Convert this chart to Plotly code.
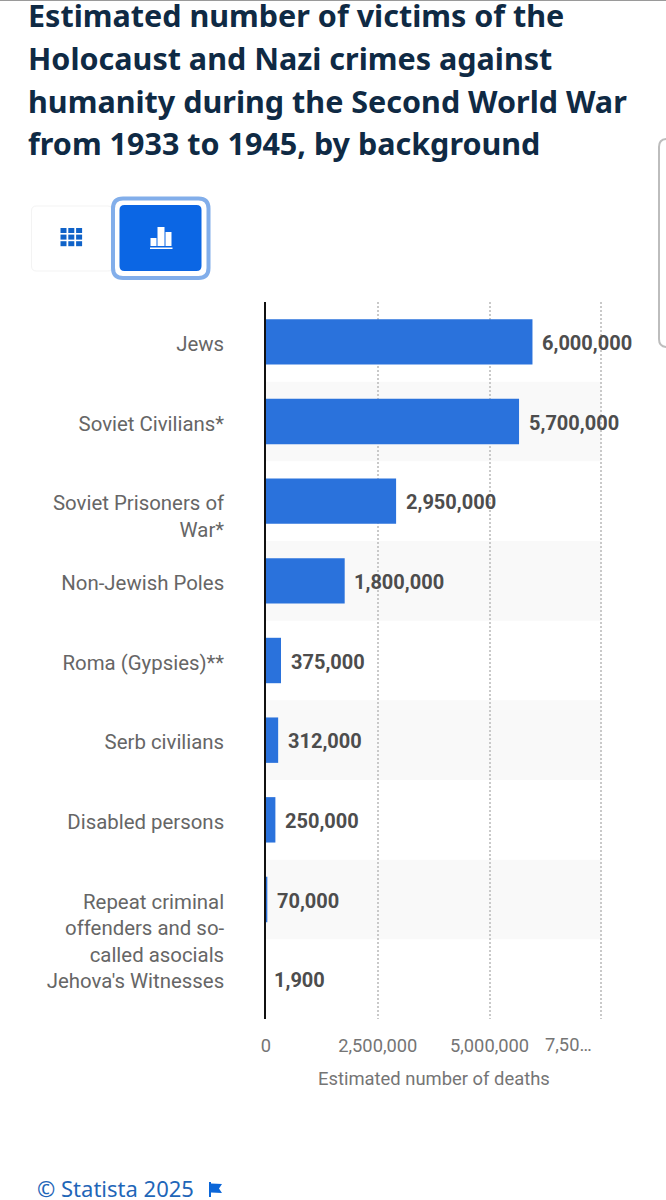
import plotly.graph_objects as go

categories = ["Jews", "Soviet Civilians*", "Soviet Prisoners of War*", "Non-Jewish Poles",
              "Roma (Gypsies)**", "Serb civilians", "Disabled persons",
              "Repeat criminal offenders and so-called asocials", "Jehova's Witnesses"]
tick_text = ["Jews", "Soviet Civilians*", "&nbsp;<br>Soviet Prisoners of<br>War*", "Non-Jewish Poles",
             "Roma (Gypsies)**", "Serb civilians", "Disabled persons",
             "&nbsp;<br>&nbsp;<br>Repeat criminal<br>offenders and so-<br>called asocials", "Jehova's Witnesses"]
deaths = [6000000, 5700000, 2950000, 1800000, 375000, 312000, 250000, 70000, 1900]
x_ticks = [0, 2500000, 5000000, 7500000]
x_tick_text = ["0", "2,500,000", "5,000,000", ""]
x_max = 7560000
truncated_tick = "7,50…"
title_lines = ["Estimated number of victims of the", "Holocaust and Nazi crimes against",
               "humanity during the Second World War", "from 1933 to 1945, by background"]
title_centers = [15, 58, 101, 143]
axis_title = "Estimated number of deaths"
footer = "© Statista 2025"

W, H = 666, 1200
L, R, T, B = 266, 62, 302, 181
PW, PH = W - L - R, H - T - B
BAR_INSET = 40000  # bars start just behind the axis line, as in the source chart


def px(x):
    return (x - L) / PW


def py(y):
    return 1 - (y - T) / PH


def rrect(x0, y0, x1, y1, r, **kw):
    p = (f"M{px(x0 + r)},{py(y0)} L{px(x1 - r)},{py(y0)} Q{px(x1)},{py(y0)} {px(x1)},{py(y0 + r)} "
         f"L{px(x1)},{py(y1 - r)} Q{px(x1)},{py(y1)} {px(x1 - r)},{py(y1)} L{px(x0 + r)},{py(y1)} "
         f"Q{px(x0)},{py(y1)} {px(x0)},{py(y1 - r)} L{px(x0)},{py(y0 + r)} Q{px(x0)},{py(y0)} {px(x0 + r)},{py(y0)} Z")
    return dict(type="path", path=p, xref="paper", yref="paper", **kw)


def rect(x0, y0, x1, y1, color):
    return dict(type="rect", xref="paper", yref="paper", x0=px(x0), x1=px(x1), y0=py(y0), y1=py(y1),
                fillcolor=color, line_width=0, layer="above")


fig = go.Figure(go.Bar(y=categories, x=deaths, base=-BAR_INSET, orientation="h", marker_color="#2a72dc",
                       marker_line_width=0, width=0.57, hoverinfo="skip"))

shapes = []
for i in range(1, len(categories), 2):
    shapes.append(dict(type="rect", xref="x", yref="y", x0=0, x1=x_ticks[-1], y0=i - 0.5, y1=i + 0.5,
                       fillcolor="#f9f9f9", line_width=0, layer="below"))

# top edge of the screen
shapes.append(rect(0, 0, 666, 1, "#9a9a9a"))
# view toggle
shapes.append(rrect(31.5, 206, 112.5, 271, 5, fillcolor="#ffffff", line=dict(color="#f3f3f3", width=1), layer="above"))
shapes.append(rrect(113, 198.5, 208.5, 278, 10, fillcolor="#ffffff", line=dict(color="#82aeea", width=4), layer="above"))
shapes.append(rrect(119.5, 205, 201.5, 271, 5, fillcolor="#0b66e4", line_width=0, layer="above"))
for c in range(3):
    for r in range(3):
        shapes.append(rect(60.5 + c * 7.8, 228 + r * 6.6, 66.5 + c * 7.8, 233 + r * 6.6, "#0f62c8"))
shapes.append(rect(150.5, 238, 156.5, 246, "#ffffff"))
shapes.append(rect(157.5, 227, 164.5, 246, "#ffffff"))
shapes.append(rect(165.5, 232, 171.5, 246, "#ffffff"))
shapes.append(rect(150, 247.5, 172.5, 249, "#ffffff"))
# side tab
shapes.append(rrect(659, 139, 680, 347, 8, fillcolor="#ffffff", line=dict(color="#bdbdbd", width=2), layer="above"))
# flag icon
flag = [(209, 1182), (211, 1182), (211, 1183.5), (222, 1184), (219, 1188.5), (222, 1193), (211, 1192.5),
        (211, 1197), (209, 1197)]
shapes.append(dict(type="path", xref="paper", yref="paper", layer="above", fillcolor="#0b66d8", line_width=0,
                   path="M" + " L".join(f"{px(a)},{py(b)}" for a, b in flag) + " Z"))

ann = []
for line, yc in zip(title_lines, title_centers):
    ann.append(dict(text=line, xref="paper", yref="paper", x=px(26), y=py(yc), xanchor="left", yanchor="middle",
                    showarrow=False, font=dict(family="Noto Sans", size=30.5, color="#0f2a44", weight=700)))
for cat, v in zip(categories, deaths):
    ann.append(dict(text=f"{v:,}", x=v, y=cat, xref="x", yref="y", xanchor="left", yanchor="middle", xshift=6,
                    yshift=-1, showarrow=False, font=dict(family="Roboto", size=20, color="#4d4d4d", weight=700)))
ann.append(dict(text=truncated_tick, x=x_ticks[-1], xref="x", y=py(1044), yref="paper", xanchor="right",
                yanchor="middle", xshift=-7, showarrow=False, font=dict(family="Roboto", size=18.3, color="#757575")))
ann.append(dict(text=axis_title, x=px(434), xref="paper", y=py(1078), yref="paper", xanchor="center", yanchor="middle",
                showarrow=False, font=dict(family="Roboto", size=18.4, color="#757575")))
ann.append(dict(text=footer, x=px(34.5), xref="paper", y=py(1188), yref="paper", xanchor="left", yanchor="middle",
                showarrow=False, font=dict(family="Noto Sans", size=22, color="#1f66b8")))

fig.update_layout(
    width=W, height=H, autosize=False, margin=dict(l=L, r=R, t=T, b=B, pad=0),
    paper_bgcolor="#ffffff", plot_bgcolor="#ffffff", showlegend=False, bargap=0.43,
    shapes=shapes, annotations=ann,
    xaxis=dict(range=[0, x_max], tickmode="array", tickvals=x_ticks, ticktext=x_tick_text, ticks="",
               showgrid=True, gridcolor="#c9c9c9", griddash="2px,2px", gridwidth=1.5, zeroline=False,
               showline=False, tickfont=dict(family="Roboto", size=18.3, color="#757575"), ticklabelstandoff=14),
    yaxis=dict(categoryorder="array", categoryarray=categories, autorange="reversed", tickmode="array",
               tickvals=categories, ticktext=tick_text, ticks="", showgrid=False, zeroline=False, showline=True,
               linecolor="#111111", linewidth=1.5, ticklabelstandoff=36, ticklabelshift=-2,
               tickfont=dict(family="Roboto", size=20.4, color="#666666")),
)
fig.write_html("out.html", config=dict(displayModeBar=False),
               post_script="document.body.style.margin='0';document.documentElement.style.overflow='hidden';")
